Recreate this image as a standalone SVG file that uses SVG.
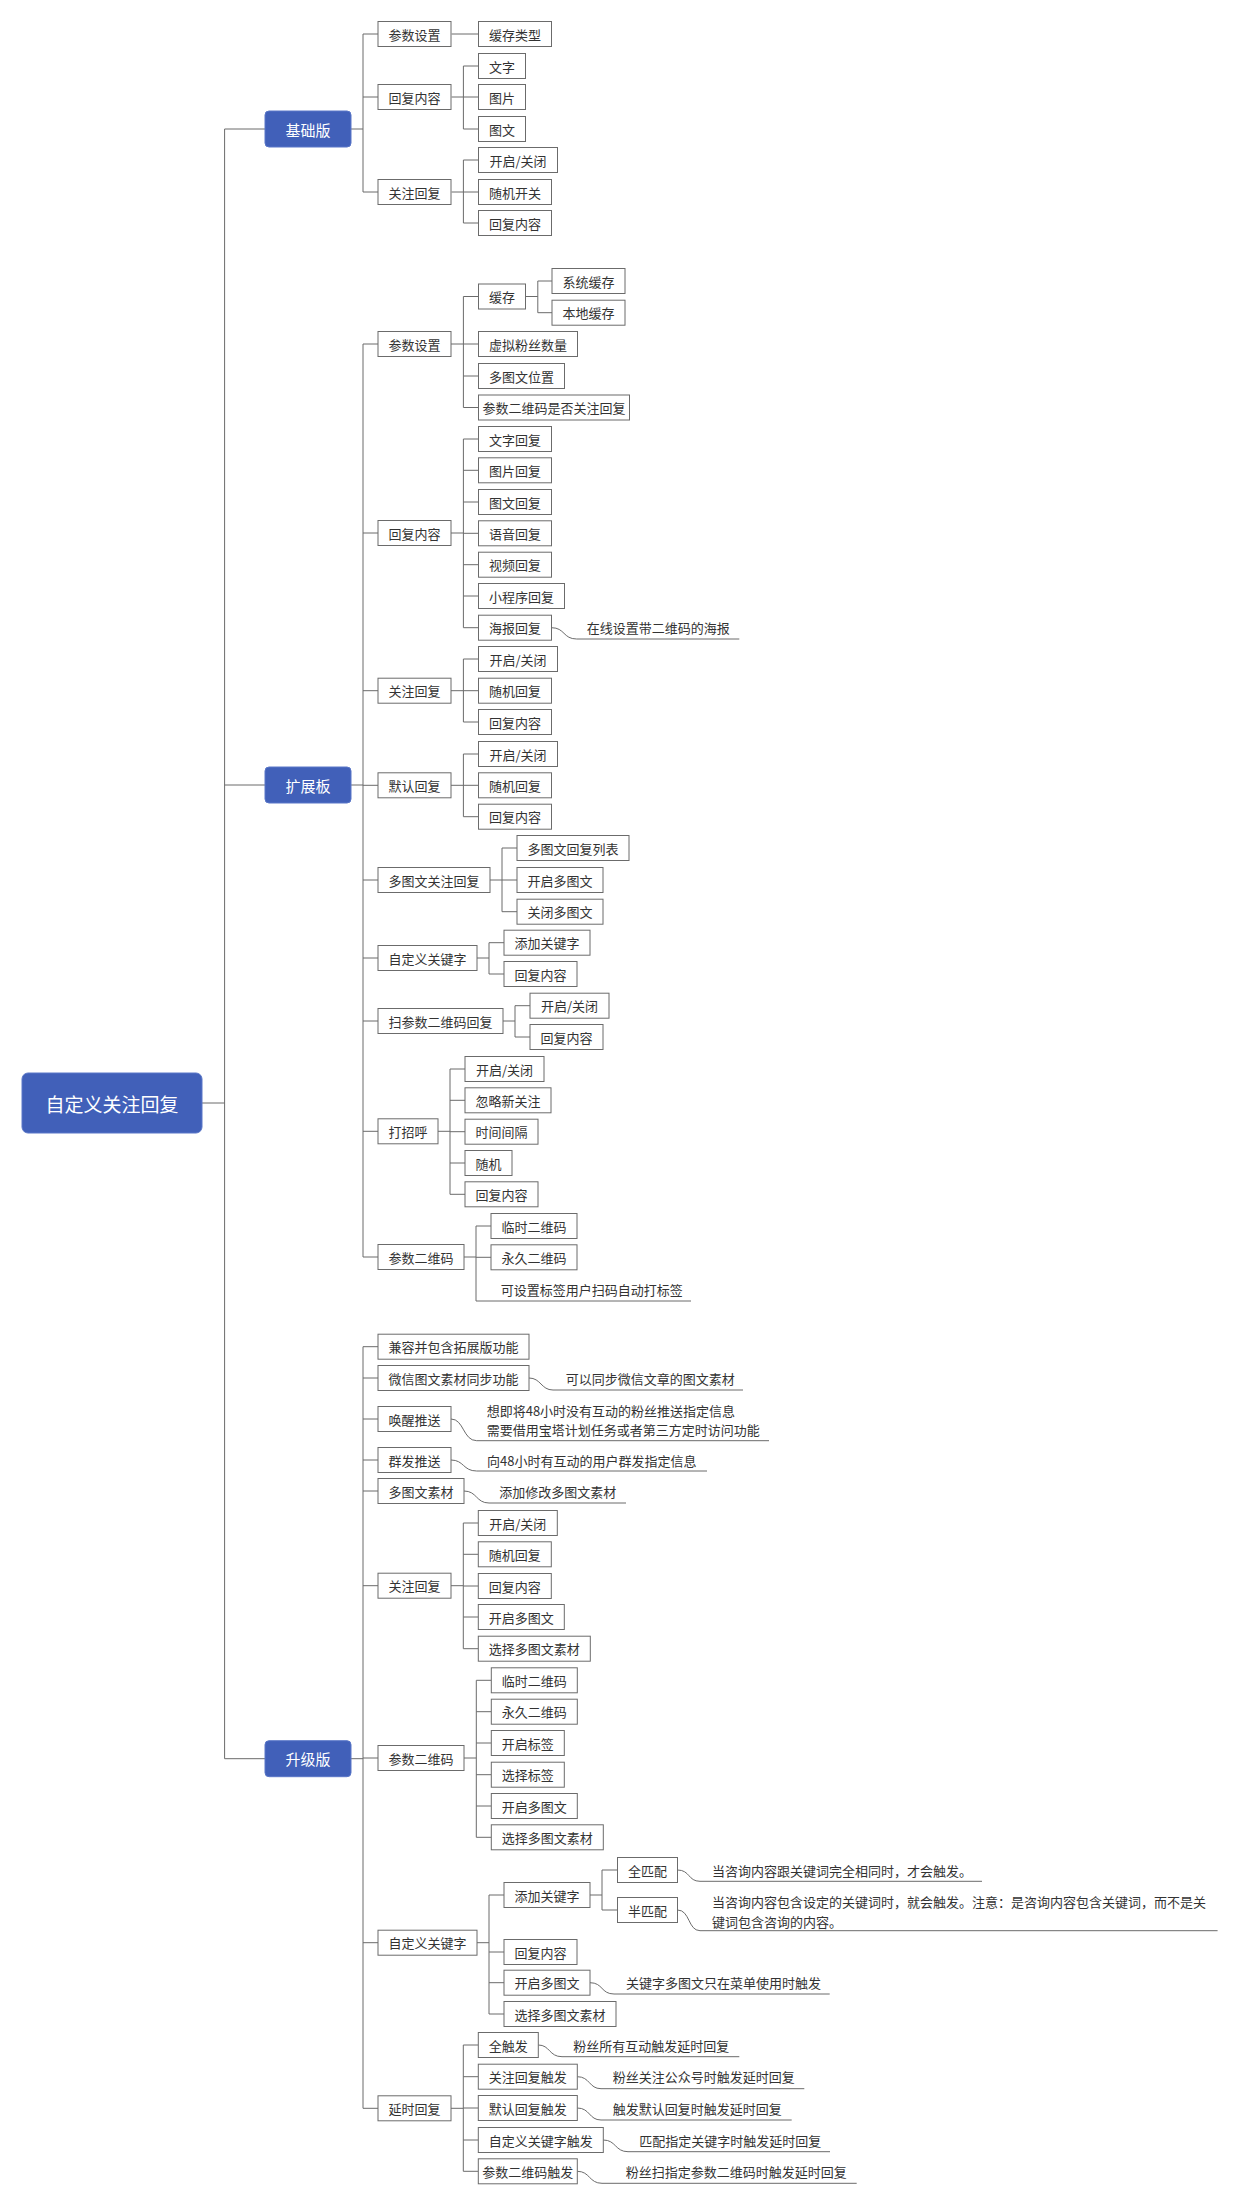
<svg xmlns="http://www.w3.org/2000/svg" width="1239" height="2204" viewBox="0 0 1239 2204">
<style>
.b{fill:#fff;stroke:#6b6b6b;stroke-width:1}
.m{fill:#4160b9;stroke:#5a77c8;stroke-width:1}
text{font-family:"Noto Sans CJK SC","Liberation Sans",sans-serif;font-size:13px;fill:#333;dominant-baseline:central}
.c{text-anchor:middle}
.w{fill:#fff;font-size:15px}
.r{fill:#fff;font-size:19px}
.l{fill:none;stroke:#6b6b6b;stroke-width:1}
</style>
<rect width="1239" height="2204" fill="#fff"/>
<g id="connectors" class="l">
<path d="M202 1103H224.6M224.6 129V1758.7M224.6 129H265M224.6 785H265M224.6 1758.7H265"/>
<path d="M351 129H363M363 34V192M363 34H378M363 97H378M363 192H378"/>
<path d="M451.6 34H478.5M451.6 97H463.4M463.4 66V129M463.4 66H478.5M463.4 97H478.5M463.4 129H478.5M451.6 192H463.4M463.4 160V223M463.4 160H478.5M463.4 192H478.5M463.4 223H478.5"/>
<path d="M351 785H363M363 344V1257M363 344H378M363 533H378M363 690.7H378M363 785.3H378M363 880H378M363 958H378M363 1021H378M363 1131.3H378M363 1257H378"/>
<path d="M451 344H463.4M463.4 296.5V407.5M463.4 296.5H478.5M463.4 344H478.5M463.4 376H478.5M463.4 407.5H478.5M525.5 296.5H537.8M537.8 281V312.7M537.8 281H552M537.8 312.7H552"/>
<path d="M451 533H463.4M463.4 439V627.7M463.4 439H478.5M463.4 470.3H478.5M463.4 502H478.5M463.4 533.3H478.5M463.4 564.7H478.5M463.4 596H478.5M463.4 627.7H478.5"/>
<path d="M551.5 627.7C565 627.7 563 639 576.7 639H739.3"/>
<path d="M451 690.7H463.4M463.4 659V722M463.4 659H478.5M463.4 690.7H478.5M463.4 722H478.5M451 785.3H463.4M463.4 754V816.7M463.4 754H478.5M463.4 785.3H478.5M463.4 816.7H478.5"/>
<path d="M490 880H502M502 848V911.7M502 848H517M502 880H517M502 911.7H517M477 958H489M489 942.7V974M489 942.7H504M489 974H504M503 1021H515M515 1005.7V1037M515 1005.7H530M515 1037H530"/>
<path d="M438 1131.3H450M450 1069V1194.3M450 1069H465M450 1100.3H465M450 1131.7H465M450 1163H465M450 1194.3H465"/>
<path d="M464 1257H476M476 1226V1301H691M476 1226H491M476 1257.3H491"/>
<path d="M351 1758.7H363M363 1346.7V2108.3M363 1346.7H378M363 1378H378M363 1419H378M363 1460H378M363 1491H378M363 1585.7H378M363 1758H378M363 1942.7H378M363 2108.3H378"/>
<path d="M529 1378C541 1378 541 1390 553 1390H743M451 1419C464 1419 463 1440.7 476.7 1440.7H769M451 1460C464 1460 463 1471 476.7 1471H707M464 1491C477 1491 476 1503 489 1503H626"/>
<path d="M451 1585.7H463.3M463.3 1523V1648.7M463.3 1523H478.3M463.3 1554.3H478.3M463.3 1586H478.3M463.3 1617H478.3M463.3 1648.7H478.3"/>
<path d="M464 1758H476.3M476.3 1680.3V1837.3M476.3 1680.3H491.3M476.3 1711.7H491.3M476.3 1743H491.3M476.3 1774.7H491.3M476.3 1806H491.3M476.3 1837.3H491.3"/>
<path d="M477 1942.7H489M489 1895V2014M489 1895H504M489 1952H504M489 1982.7H504M489 2014H504M590 1895H602M602 1870V1910M602 1870H617.5M602 1910H617.5"/>
<path d="M677.5 1870C690 1870 688 1881.3 700 1881.3H982M677.5 1910C690 1910 688 1930.7 700 1930.7H1217.6M590 1982.7C603 1982.7 601 1994 614 1994H829.7"/>
<path d="M451 2108.3H463.3M463.3 2045V2171.3M463.3 2045H478.3M463.3 2076.7H478.3M463.3 2108H478.3M463.3 2140H478.3M463.3 2171.3H478.3"/>
<path d="M538.3 2045C550 2045 549 2056.7 562 2056.7H739.3M577.3 2076.7C590 2076.7 589 2088.7 601 2088.7H804.3M577.3 2108C590 2108 589 2120 601 2120H791.7M603.3 2140C616 2140 615 2151.7 628 2151.7H830M577.3 2171.3C590 2171.3 589 2183.3 602 2183.3H856.7"/>
</g>
<g id="root"><rect class="m" x="22" y="1073" width="180" height="60" rx="6"/><text class="r c" x="112" y="1103">自定义关注回复</text></g>
<g id="basic"><rect class="m" x="265" y="111" width="86" height="36" rx="4"/><text class="w c" x="308" y="129">基础版</text></g>
<g id="ext"><rect class="m" x="265" y="767" width="86" height="36" rx="4"/><text class="w c" x="308" y="785">扩展板</text></g>
<g id="upg"><rect class="m" x="265" y="1740.7" width="86" height="36" rx="4"/><text class="w c" x="308" y="1758.7">升级版</text></g>

<g id="b1"><rect class="b" x="378" y="21.5" width="73" height="25"/><text class="c" x="414.5" y="34">参数设置</text></g>
<g id="b1a"><rect class="b" x="478.5" y="21.5" width="73" height="25"/><text class="c" x="515" y="34">缓存类型</text></g>
<g id="b2"><rect class="b" x="378" y="84.5" width="73" height="25"/><text class="c" x="414.5" y="97">回复内容</text></g>
<g id="b2a"><rect class="b" x="478.5" y="53.5" width="47" height="25"/><text class="c" x="502" y="66">文字</text></g>
<g id="b2b"><rect class="b" x="478.5" y="84.5" width="47" height="25"/><text class="c" x="502" y="97">图片</text></g>
<g id="b2c"><rect class="b" x="478.5" y="116.5" width="47" height="25"/><text class="c" x="502" y="129">图文</text></g>
<g id="b3"><rect class="b" x="378" y="179.5" width="73" height="25"/><text class="c" x="414.5" y="192">关注回复</text></g>
<g id="b3a"><rect class="b" x="478.5" y="147.5" width="79" height="25"/><text class="c" x="518" y="160">开启/关闭</text></g>
<g id="b3b"><rect class="b" x="478.5" y="179.5" width="73" height="25"/><text class="c" x="515" y="192">随机开关</text></g>
<g id="b3c"><rect class="b" x="478.5" y="210.5" width="73" height="25"/><text class="c" x="515" y="223">回复内容</text></g>

<g id="e1"><rect class="b" x="378" y="331.5" width="73" height="25"/><text class="c" x="414.5" y="344">参数设置</text></g>
<g id="e1a"><rect class="b" x="478.5" y="284" width="47" height="25"/><text class="c" x="502" y="296.5">缓存</text></g>
<g id="e1a1"><rect class="b" x="552" y="268.5" width="73" height="25"/><text class="c" x="588.5" y="281">系统缓存</text></g>
<g id="e1a2"><rect class="b" x="552" y="300.2" width="73" height="25"/><text class="c" x="588.5" y="312.7">本地缓存</text></g>
<g id="e1b"><rect class="b" x="478.5" y="331.5" width="99" height="25"/><text class="c" x="528" y="344">虚拟粉丝数量</text></g>
<g id="e1c"><rect class="b" x="478.5" y="363.5" width="86" height="25"/><text class="c" x="521.5" y="376">多图文位置</text></g>
<g id="e1d"><rect class="b" x="478.5" y="395" width="151" height="25"/><text class="c" x="554" y="407.5">参数二维码是否关注回复</text></g>

<g id="e2"><rect class="b" x="378" y="520.5" width="73" height="25"/><text class="c" x="414.5" y="533">回复内容</text></g>
<g id="e2a"><rect class="b" x="478.5" y="426.5" width="73" height="25"/><text class="c" x="515" y="439">文字回复</text></g>
<g id="e2b"><rect class="b" x="478.5" y="457.8" width="73" height="25"/><text class="c" x="515" y="470.3">图片回复</text></g>
<g id="e2c"><rect class="b" x="478.5" y="489.5" width="73" height="25"/><text class="c" x="515" y="502">图文回复</text></g>
<g id="e2d"><rect class="b" x="478.5" y="520.8" width="73" height="25"/><text class="c" x="515" y="533.3">语音回复</text></g>
<g id="e2e"><rect class="b" x="478.5" y="552.2" width="73" height="25"/><text class="c" x="515" y="564.7">视频回复</text></g>
<g id="e2f"><rect class="b" x="478.5" y="583.5" width="86" height="25"/><text class="c" x="521.5" y="596">小程序回复</text></g>
<g id="e2g"><rect class="b" x="478.5" y="615.2" width="73" height="25"/><text class="c" x="515" y="627.7">海报回复</text></g>
<g id="e2g-n"><text x="586.7" y="627.7">在线设置带二维码的海报</text></g>

<g id="e3"><rect class="b" x="378" y="678.2" width="73" height="25"/><text class="c" x="414.5" y="690.7">关注回复</text></g>
<g id="e3a"><rect class="b" x="478.5" y="646.5" width="79" height="25"/><text class="c" x="518" y="659">开启/关闭</text></g>
<g id="e3b"><rect class="b" x="478.5" y="678.2" width="73" height="25"/><text class="c" x="515" y="690.7">随机回复</text></g>
<g id="e3c"><rect class="b" x="478.5" y="709.5" width="73" height="25"/><text class="c" x="515" y="722">回复内容</text></g>
<g id="e4"><rect class="b" x="378" y="772.8" width="73" height="25"/><text class="c" x="414.5" y="785.3">默认回复</text></g>
<g id="e4a"><rect class="b" x="478.5" y="741.5" width="79" height="25"/><text class="c" x="518" y="754">开启/关闭</text></g>
<g id="e4b"><rect class="b" x="478.5" y="772.8" width="73" height="25"/><text class="c" x="515" y="785.3">随机回复</text></g>
<g id="e4c"><rect class="b" x="478.5" y="804.2" width="73" height="25"/><text class="c" x="515" y="816.7">回复内容</text></g>

<g id="e5"><rect class="b" x="378" y="867.5" width="112" height="25"/><text class="c" x="434" y="880">多图文关注回复</text></g>
<g id="e5a"><rect class="b" x="517" y="835.5" width="112" height="25"/><text class="c" x="573" y="848">多图文回复列表</text></g>
<g id="e5b"><rect class="b" x="517" y="867.5" width="86" height="25"/><text class="c" x="560" y="880">开启多图文</text></g>
<g id="e5c"><rect class="b" x="517" y="899.2" width="86" height="25"/><text class="c" x="560" y="911.7">关闭多图文</text></g>
<g id="e6"><rect class="b" x="378" y="945.5" width="99" height="25"/><text class="c" x="427.5" y="958">自定义关键字</text></g>
<g id="e6a"><rect class="b" x="504" y="930.2" width="86" height="25"/><text class="c" x="547" y="942.7">添加关键字</text></g>
<g id="e6b"><rect class="b" x="504" y="961.5" width="73" height="25"/><text class="c" x="540.5" y="974">回复内容</text></g>
<g id="e7"><rect class="b" x="378" y="1008.5" width="125" height="25"/><text class="c" x="440.5" y="1021">扫参数二维码回复</text></g>
<g id="e7a"><rect class="b" x="530" y="993.2" width="79" height="25"/><text class="c" x="569.5" y="1005.7">开启/关闭</text></g>
<g id="e7b"><rect class="b" x="530" y="1024.5" width="73" height="25"/><text class="c" x="566.5" y="1037">回复内容</text></g>
<g id="e8"><rect class="b" x="378" y="1118.8" width="60" height="25"/><text class="c" x="408" y="1131.3">打招呼</text></g>
<g id="e8a"><rect class="b" x="465" y="1056.5" width="79" height="25"/><text class="c" x="504.5" y="1069">开启/关闭</text></g>
<g id="e8b"><rect class="b" x="465" y="1087.8" width="86" height="25"/><text class="c" x="508" y="1100.3">忽略新关注</text></g>
<g id="e8c"><rect class="b" x="465" y="1119.2" width="73" height="25"/><text class="c" x="501.5" y="1131.7">时间间隔</text></g>
<g id="e8d"><rect class="b" x="465" y="1150.5" width="47" height="25"/><text class="c" x="488.5" y="1163">随机</text></g>
<g id="e8e"><rect class="b" x="465" y="1181.8" width="73" height="25"/><text class="c" x="501.5" y="1194.3">回复内容</text></g>
<g id="e9"><rect class="b" x="378" y="1244.5" width="86" height="25"/><text class="c" x="421" y="1257">参数二维码</text></g>
<g id="e9a"><rect class="b" x="491" y="1213.5" width="86" height="25"/><text class="c" x="534" y="1226">临时二维码</text></g>
<g id="e9b"><rect class="b" x="491" y="1244.8" width="86" height="25"/><text class="c" x="534" y="1257.3">永久二维码</text></g>
<g id="e9c"><text x="500.7" y="1289">可设置标签用户扫码自动打标签</text></g>

<g id="u1"><rect class="b" x="378" y="1334.2" width="151" height="25"/><text class="c" x="453.5" y="1346.7">兼容并包含拓展版功能</text></g>
<g id="u2"><rect class="b" x="378" y="1365.5" width="151" height="25"/><text class="c" x="453.5" y="1378">微信图文素材同步功能</text></g>
<g id="u2-n"><text x="565.7" y="1378">可以同步微信文章的图文素材</text></g>
<g id="u3"><rect class="b" x="378" y="1406.5" width="73" height="25"/><text class="c" x="414.5" y="1419">唤醒推送</text></g>
<g id="u3-n"><text x="486.7" y="1410.7">想即将48小时没有互动的粉丝推送指定信息</text><text x="486.7" y="1429.7">需要借用宝塔计划任务或者第三方定时访问功能</text></g>
<g id="u4"><rect class="b" x="378" y="1447.5" width="73" height="25"/><text class="c" x="414.5" y="1460">群发推送</text></g>
<g id="u4-n"><text x="487" y="1460">向48小时有互动的用户群发指定信息</text></g>
<g id="u5"><rect class="b" x="378" y="1478.5" width="86" height="25"/><text class="c" x="421" y="1491">多图文素材</text></g>
<g id="u5-n"><text x="499.3" y="1491">添加修改多图文素材</text></g>

<g id="u6"><rect class="b" x="378" y="1573.2" width="73" height="25"/><text class="c" x="414.5" y="1585.7">关注回复</text></g>
<g id="u6a"><rect class="b" x="478.3" y="1510.5" width="79" height="25"/><text class="c" x="517.8" y="1523">开启/关闭</text></g>
<g id="u6b"><rect class="b" x="478.3" y="1541.8" width="73" height="25"/><text class="c" x="514.8" y="1554.3">随机回复</text></g>
<g id="u6c"><rect class="b" x="478.3" y="1573.5" width="73" height="25"/><text class="c" x="514.8" y="1586">回复内容</text></g>
<g id="u6d"><rect class="b" x="478.3" y="1604.5" width="86" height="25"/><text class="c" x="521.3" y="1617">开启多图文</text></g>
<g id="u6e"><rect class="b" x="478.3" y="1636.2" width="112" height="25"/><text class="c" x="534.3" y="1648.7">选择多图文素材</text></g>

<g id="u7"><rect class="b" x="378" y="1745.5" width="86" height="25"/><text class="c" x="421" y="1758">参数二维码</text></g>
<g id="u7a"><rect class="b" x="491.3" y="1667.8" width="86" height="25"/><text class="c" x="534.3" y="1680.3">临时二维码</text></g>
<g id="u7b"><rect class="b" x="491.3" y="1699.2" width="86" height="25"/><text class="c" x="534.3" y="1711.7">永久二维码</text></g>
<g id="u7c"><rect class="b" x="491.3" y="1730.5" width="73" height="25"/><text class="c" x="527.8" y="1743">开启标签</text></g>
<g id="u7d"><rect class="b" x="491.3" y="1762.2" width="73" height="25"/><text class="c" x="527.8" y="1774.7">选择标签</text></g>
<g id="u7e"><rect class="b" x="491.3" y="1793.5" width="86" height="25"/><text class="c" x="534.3" y="1806">开启多图文</text></g>
<g id="u7f"><rect class="b" x="491.3" y="1824.8" width="112" height="25"/><text class="c" x="547.3" y="1837.3">选择多图文素材</text></g>

<g id="u8"><rect class="b" x="378" y="1930.2" width="99" height="25"/><text class="c" x="427.5" y="1942.7">自定义关键字</text></g>
<g id="u8a"><rect class="b" x="504" y="1882.5" width="86" height="25"/><text class="c" x="547" y="1895">添加关键字</text></g>
<g id="u8a1"><rect class="b" x="617.5" y="1857.5" width="60" height="25"/><text class="c" x="647.5" y="1870">全匹配</text></g>
<g id="u8a1-n"><text x="712" y="1870">当咨询内容跟关键词完全相同时，才会触发。</text></g>
<g id="u8a2"><rect class="b" x="617.5" y="1897.5" width="60" height="25"/><text class="c" x="647.5" y="1910">半匹配</text></g>
<g id="u8a2-n"><text x="712" y="1901.7">当咨询内容包含设定的关键词时，就会触发。注意：是咨询内容包含关键词，而不是关</text><text x="712" y="1921.3">键词包含咨询的内容。</text></g>
<g id="u8b"><rect class="b" x="504" y="1939.5" width="73" height="25"/><text class="c" x="540.5" y="1952">回复内容</text></g>
<g id="u8c"><rect class="b" x="504" y="1970.2" width="86" height="25"/><text class="c" x="547" y="1982.7">开启多图文</text></g>
<g id="u8c-n"><text x="626" y="1982.7">关键字多图文只在菜单使用时触发</text></g>
<g id="u8d"><rect class="b" x="504" y="2001.5" width="112" height="25"/><text class="c" x="560" y="2014">选择多图文素材</text></g>

<g id="u9"><rect class="b" x="378" y="2095.8" width="73" height="25"/><text class="c" x="414.5" y="2108.3">延时回复</text></g>
<g id="u9a"><rect class="b" x="478.3" y="2032.5" width="60" height="25"/><text class="c" x="508.3" y="2045">全触发</text></g>
<g id="u9a-n"><text x="573.3" y="2045">粉丝所有互动触发延时回复</text></g>
<g id="u9b"><rect class="b" x="478.3" y="2064.2" width="99" height="25"/><text class="c" x="527.8" y="2076.7">关注回复触发</text></g>
<g id="u9b-n"><text x="612.7" y="2076.7">粉丝关注公众号时触发延时回复</text></g>
<g id="u9c"><rect class="b" x="478.3" y="2095.5" width="99" height="25"/><text class="c" x="527.8" y="2108">默认回复触发</text></g>
<g id="u9c-n"><text x="612.7" y="2108">触发默认回复时触发延时回复</text></g>
<g id="u9d"><rect class="b" x="478.3" y="2127.5" width="125" height="25"/><text class="c" x="540.8" y="2140">自定义关键字触发</text></g>
<g id="u9d-n"><text x="639.3" y="2140">匹配指定关键字时触发延时回复</text></g>
<g id="u9e"><rect class="b" x="478.3" y="2158.8" width="99" height="25"/><text class="c" x="527.8" y="2171.3">参数二维码触发</text></g>
<g id="u9e-n"><text x="625.7" y="2171.3">粉丝扫指定参数二维码时触发延时回复</text></g>
</svg>
